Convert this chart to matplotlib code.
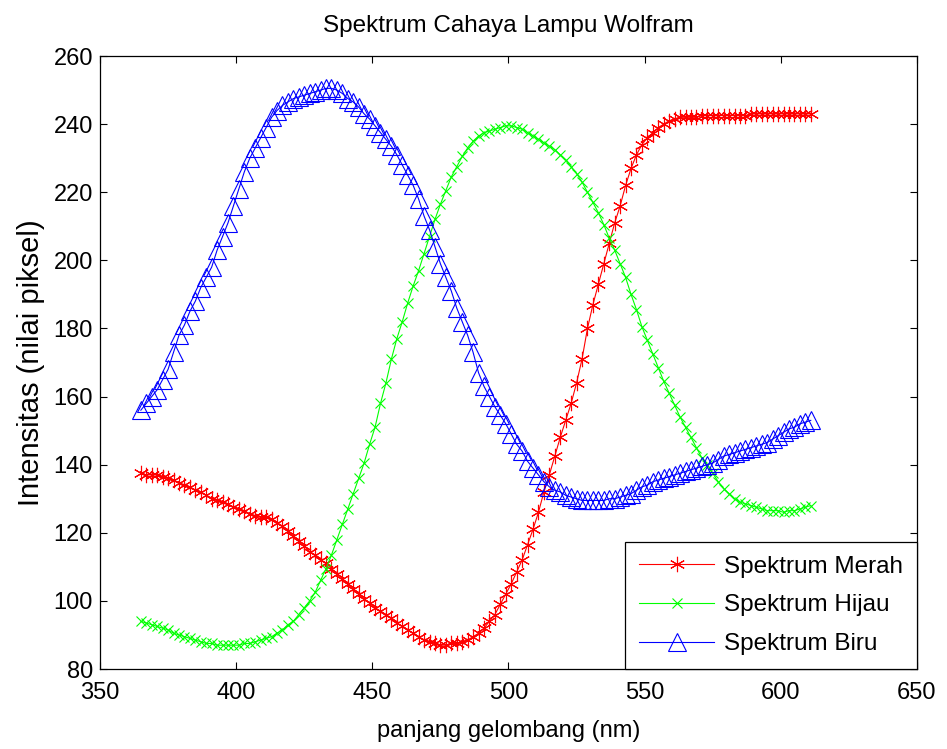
import numpy as np
import matplotlib
matplotlib.use("Agg")
import matplotlib.pyplot as plt

plt.rcParams["font.family"] = ["Liberation Sans", "DejaVu Sans"]

# wavelength grid (nm), one reading every 2 nm
panjang_gelombang = np.arange(365, 612, 2)

# red channel
merah = [
    137.5, 137, 137, 137, 136.5, 136, 135.5, 134.5, 134, 133.5,
    132.5, 132, 131, 130, 129.5, 129, 128.5, 127.5, 127, 126.5,
    125.5, 125, 124.5, 124.5, 124, 123, 122, 120.5, 119, 117.5,
    116, 114.5, 113.5, 112, 111, 109.5, 108, 106.5, 105, 103.5,
    102, 100.5, 99.5, 98, 97, 96, 95, 93.5, 92.5, 91.5,
    90.5, 89.5, 88.5, 88, 87.5, 87, 87, 87.5, 87.5, 88,
    88.5, 89.5, 90.5, 92, 94, 96, 99, 102, 105, 108.5,
    112, 116.5, 121, 126, 132, 137, 142.5, 148, 153, 158,
    164, 171, 180, 187, 193, 199, 205, 211, 216, 222,
    227, 231, 234, 236, 237.5, 239, 240, 241, 241.5, 242,
    242, 242, 242, 242.5, 242.5, 242.5, 242.5, 242.5, 242.5, 242.5,
    242.5, 242.5, 243, 243, 243, 243, 243, 243, 243, 243,
    243, 243, 243, 243,
]

# green channel
hijau = [
    94, 93.5, 93, 92.5, 92, 91.5, 90.5, 90, 89.5, 89,
    88.5, 88, 87.5, 87.5, 87, 87, 87, 87, 87, 87.5,
    87.5, 88, 88.5, 89, 89.5, 90.5, 91.5, 93, 94, 96,
    98, 100, 102.5, 106, 109.5, 113.5, 118, 122.5, 127, 131.5,
    136, 140.5, 146, 151, 158, 164, 171, 177, 182, 187.5,
    192.5, 197, 202, 207, 212, 216.5, 220.5, 224.5, 227.5, 230.5,
    233, 235, 236.5, 237.5, 238, 238.5, 239, 239.5, 239.5, 239,
    238.5, 237.5, 236.5, 235.5, 234.5, 233.5, 232.5, 231, 229.5, 227.5,
    225.5, 223, 220, 217, 214, 210.5, 206.5, 203, 199, 195,
    190, 185.5, 180.5, 176.5, 172.5, 168.5, 164.5, 161, 157.5, 154,
    151, 148, 145, 142, 140, 137.5, 135, 133, 131.5, 130,
    129, 128.5, 128, 127.5, 127, 126.5, 126.5, 126.5, 126, 126.5,
    126.5, 127, 127.5, 128,
]

# blue channel
biru = [
    156, 158, 160, 162, 165, 168, 173, 178, 181, 185,
    188, 192, 195, 198, 203, 207, 211, 216, 221, 226,
    230, 233, 236, 239, 242, 244, 245.5, 246.5, 247.5, 248,
    248.5, 249, 249.5, 250, 250.5, 250.5, 250, 249, 247.5, 246.5,
    245, 243, 241.5, 239.5, 237.5, 235.5, 233.5, 231, 228, 225,
    222, 218, 213, 209, 204, 199, 195, 191, 186, 182,
    178, 173, 167, 163, 160, 157, 154.5, 152, 149, 146,
    144, 141, 139, 137, 135, 133.5, 132.5, 132, 131, 130.5,
    130, 129.5, 129.5, 129.5, 129.5, 129.5, 130, 130, 130.5, 131,
    131.5, 132.5, 133.5, 134, 135, 135.5, 136, 136.5, 137, 137.5,
    138, 138.5, 139, 139.5, 140, 140.5, 141.5, 142.5, 143, 143.5,
    144, 144.5, 145, 145.5, 146, 146.5, 147.5, 148.5, 149.5, 150.5,
    151, 152, 152.5, 153,
]

fig = plt.figure(figsize=(9.47, 7.49), dpi=100)
ax = fig.add_axes([0.1056, 0.1068, 0.8627, 0.8184])

ax.plot(panjang_gelombang, merah, color=(1, 0, 0), linewidth=0.8,
        marker=(6, 2, 0), markersize=11, markeredgewidth=0.8,
        label="Spektrum Merah")
ax.plot(panjang_gelombang, hijau, color=(0, 1, 0), linewidth=0.8,
        marker="x", markersize=7, markeredgewidth=0.8,
        label="Spektrum Hijau")
ax.plot(panjang_gelombang, biru, color=(0, 0, 1), linewidth=0.8,
        marker="^", markersize=13, markerfacecolor="none",
        markeredgewidth=0.8, label="Spektrum Biru")

ax.set_xlim(350, 650)
ax.set_ylim(80, 260)
ax.set_xticks(np.arange(350, 651, 50))
ax.set_yticks(np.arange(80, 261, 20))
ax.tick_params(direction="in", top=True, right=True, length=5,
               labelsize=17, width=0.8)
ax.tick_params(axis="x", pad=9)
ax.tick_params(axis="y", pad=5)
for s in ax.spines.values():
    s.set_linewidth(0.9)

ax.set_title("Spektrum Cahaya Lampu Wolfram", fontsize=17.5, pad=17)
ax.set_xlabel("panjang gelombang (nm)", fontsize=17, labelpad=12)
ax.set_ylabel("Intensitas (nilai piksel)", fontsize=21, labelpad=6)

leg = ax.legend(loc="lower right", fontsize=17.5, numpoints=1,
                handlelength=3.1, labelspacing=0.69, borderaxespad=0,
                fancybox=False, framealpha=1, edgecolor="black",
                borderpad=0.57, handletextpad=0.4)
leg.get_frame().set_linewidth(0.9)

fig.savefig("out.png", dpi=100)
